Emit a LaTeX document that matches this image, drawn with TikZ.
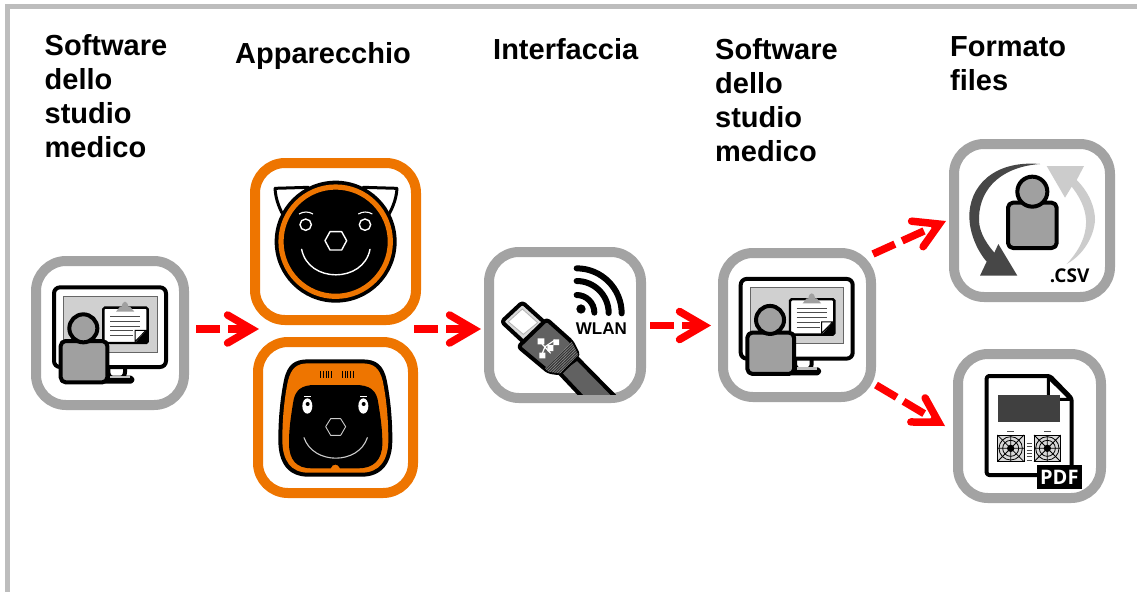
\documentclass[tikz,border=0pt]{standalone}
\usepackage{fontspec}
\setmainfont{Liberation Sans}
\newfontfamily\iconfont{Open Sans}
\usetikzlibrary{arrows.meta,calc}
\definecolor{boxgray}{HTML}{A3A3A3}
\definecolor{frameg}{HTML}{BDBDBD}
\definecolor{boxorange}{HTML}{EE7500}
\definecolor{scr}{HTML}{D0D0D0}
\definecolor{pers}{HTML}{A0A0A0}
\tikzset{
  graybox/.style={draw=boxgray,line width=10pt,rounded corners=30pt,fill=white,inner sep=0pt},
  orangebox/.style={draw=boxorange,line width=10pt,rounded corners=30pt,fill=white,inner sep=0pt},
  heading/.style={anchor=north west,align=left,inner sep=0pt,font=\bfseries\fontsize{29}{34}\selectfont},
  redarrow/.style={draw=red,line width=7.5pt,dash pattern=on 24pt off 8pt,
    -{Straight Barb[length=24pt,width=28pt,line width=7.5pt,line cap=round,line join=miter]}},
  ic/.style={line width=4pt,draw=black,line join=round},
}
\newcommand{\monitoricon}[2]{%
\begin{scope}[shift={(#1,#2)},scale=1/3]
  \draw[ic,fill=white,rounded corners=6pt] (265,350) rectangle (315,400);
  \draw[ic,fill=white,rounded corners=1.5pt] (250,398) -- (337,398) -- (337,410) -- (250,410) -- cycle;
  \fill[boxgray!70] (270,392) rectangle (330,400);
  \draw[ic,fill=white,rounded corners=6pt] (102,127) rectangle (438,366);
  \draw[line width=1pt,draw=black!60,fill=scr] (131,153) rectangle (411,322);
  \draw[line width=2.4pt,fill=white,rounded corners=1.5pt] (250,188) rectangle (383,294);
  \fill[pers] (288,200) -- (300,185) -- (305,185) .. controls (308,165) and (322,165) .. (325,185) -- (330,185) -- (343,200) -- cycle;
  \draw[line width=.9pt,draw=black!70] (270,215) -- (360,215) (270,229) -- (360,229) (270,243) -- (360,243) (270,257) -- (340,257) (270,272) -- (340,272);
  \fill[black] (383,252) -- (383,294) -- (345,294) -- cycle;
  \draw[line width=1pt,fill=white] (345,256) -- (378,256) -- (345,290) -- cycle;
  \draw[ic,fill=pers,rounded corners=5pt] (122,412) -- (122,288) -- (262,288) -- (262,412) -- cycle;
  \draw[ic,fill=pers] (190,250) circle[radius=42];
\end{scope}}
\newcommand{\fanicon}[2]{%
\begin{scope}[shift={(#1,#2)}]
  \fill[black!15] (-40,-40) rectangle (40,40);
  \draw[line width=.7pt] (-40,-40) rectangle (40,40);
  \draw[line width=.8pt] (0,0) circle[radius=35] (0,0) circle[radius=24];
  \draw[line width=.8pt] (-40,-40) -- (40,40) (-40,40) -- (40,-40) (-40,0) -- (40,0) (0,-40) -- (0,40);
  \fill (0,0) circle[radius=11];
\end{scope}}
\begin{document}
\begin{tikzpicture}[x=1pt,y=-1pt]
\useasboundingbox (0,0) rectangle (1137,592);
\draw[frameg,line width=5pt] (1137,6.5) -- (7.5,6.5) -- (7.5,592);

% headings
\node[heading] (h1) at (44.5,34.5) {Software\\dello\\studio\\medico};
\node[heading] (h2) at (235,42.5) {Apparecchio};
\node[heading] (h3) at (493,38.5) {Interfaccia};
\node[heading] (h4) at (715,38) {Software\\dello\\studio\\medico};
\node[heading] (h5) at (950,36.5) {Formato\\files};

% boxes
\node[graybox,minimum width=148pt,minimum height=144pt] (b1) at (110,333) {};
\node[orangebox,minimum width=161pt,minimum height=157pt] (b2) at (335.5,241.5) {};
\node[orangebox,minimum width=155pt,minimum height=151pt] (b3) at (335.5,417.5) {};
\node[graybox,minimum width=152pt,minimum height=146pt] (b4) at (565,325) {};
\node[graybox,minimum width=148pt,minimum height=144pt] (b5) at (797,325) {};
\node[graybox,minimum width=156pt,minimum height=153pt] (b6) at (1032,220.5) {};
\node[graybox,minimum width=143pt,minimum height=144pt] (b7) at (1029.5,426) {};

% monitors
\monitoricon{20}{245}
\monitoricon{706.7}{236.6}

% cat-shaped device
\begin{scope}[shift={(245,150)},scale=1/3]
  \draw[line width=3pt,fill=white,line join=round] (90,115) -- (190,112) -- (120,205) .. controls (105,180) and (92,150) .. cycle;
  \draw[line width=3pt,fill=white,line join=round] (456,115) -- (355,112) -- (425,205) .. controls (440,180) and (454,150) .. cycle;
  \fill[black] (272,275) circle[radius=183];
  \draw[boxorange,line width=5.2pt] (272,275) circle[radius=164];
  \draw[white,line width=1.4pt] (182,224) circle[radius=17] (360,224) circle[radius=17];
  \draw[white,line width=1.1pt] (162,192) .. controls (175,184) and (191,184) .. (204,192) (340,192) .. controls (353,184) and (369,184) .. (382,192);
  \draw[white,line width=1.4pt,line join=round] (240,272) -- (255,245) -- (290,245) -- (305,272) -- (290,300) -- (255,300) -- cycle;
  \draw[white,line width=1.4pt,line cap=round] (170,298) .. controls (190,400) and (355,400) .. (375,298);
\end{scope}

% square device
\begin{scope}[shift={(245,330)},scale=1/3]
  \fill[black] (190,88) -- (350,88) .. controls (395,88) and (415,105) .. (425,150) .. controls (435,200) and (442,260) .. (442,330) .. controls (442,400) and (410,440) .. (350,440) -- (190,440) .. controls (130,440) and (100,400) .. (100,330) .. controls (100,260) and (107,200) .. (117,150) .. controls (127,105) and (147,88) .. (190,88) -- cycle;
  \fill[boxorange] (190,100) -- (350,100) .. controls (388,100) and (403,115) .. (413,152) .. controls (423,200) and (430,260) .. (430,330) .. controls (430,392) and (402,428) .. (350,428) -- (190,428) .. controls (138,428) and (112,392) .. (112,330) .. controls (112,260) and (119,200) .. (129,152) .. controls (139,115) and (154,100) .. (190,100) -- cycle;
  \fill[black] (210,165) -- (330,165) .. controls (375,165) and (395,180) .. (400,220) .. controls (408,270) and (412,300) .. (412,340) .. controls (412,390) and (385,415) .. (340,415) -- (285,415) .. controls (280,400) and (262,400) .. (257,415) -- (200,415) .. controls (155,415) and (132,390) .. (132,340) .. controls (132,300) and (136,270) .. (144,220) .. controls (149,180) and (169,165) .. (210,165) -- cycle;
  \draw[line width=.8pt] (227,124) -- (227,143) (235,124) -- (235,143) (243,124) -- (243,143) (251,124) -- (251,143) (258,124) -- (258,143)
    (292,124) -- (292,143) (300,124) -- (300,143) (308,124) -- (308,143) (316,124) -- (316,143) (324,124) -- (324,143);
  \fill[white] (187,228) ellipse[x radius=15,y radius=23] (355,228) ellipse[x radius=15,y radius=23];
  \fill[black] (188,222) circle[radius=6] (356,222) circle[radius=6];
  \draw[white,line width=.7pt] (177,199) -- (197,199) (345,199) -- (365,199);
  \draw[white!80!black,line width=.9pt,line join=round] (242,290) -- (257,266) -- (287,266) -- (302,290) -- (287,316) -- (257,316) -- cycle;
  \draw[white!80!black,line width=1.1pt,line cap=round] (177,323) .. controls (205,405) and (340,405) .. (367,323);
\end{scope}

% USB plug and WLAN
\begin{scope}[shift={(475,240)},scale=1/3]
  \draw[black,line width=6pt,line cap=round] (305,165) arc[start angle=-90,end angle=0,radius=53]
     (305,123) arc[start angle=-90,end angle=0,radius=96]
     (305,85) arc[start angle=-90,end angle=0,radius=135];
  \fill[black] (318,207) circle[radius=14];
  \node[inner sep=0pt,text=black] (wlan) at (379,266) {\bfseries\fontsize{17}{17}\selectfont WLAN};
\end{scope}
\begin{scope}[shift={(490,290)},scale=1/3]
  \clip (-10,-10) rectangle (400,313);
  \draw[line width=4pt,fill=black!62,line join=round] (205,245) -- (290,335) -- (390,335) -- (262,205) -- cycle;
  \draw[line width=4pt,fill=white!85!black,line join=round,rounded corners=3pt] (35,95) -- (97,37) -- (170,103) -- (105,160) -- cycle;
  \draw[line width=.8pt,fill=white,draw=black!30] (55,95) -- (97,57) -- (143,98) -- (100,133) -- cycle;
  \draw[line width=4pt,fill=black!62,line join=round,rounded corners=3pt] (85,170) -- (170,88) -- (245,155) -- (265,195) -- (210,250) -- (175,245) -- cycle;
  \begin{scope}
    \clip (165,235) -- (245,155) -- (265,195) -- (210,250) -- (175,245) -- cycle;
    \fill[black!80] (150,150) rectangle (280,260);
    \foreach \d in {0,6,...,48}{\draw[black!45,line width=.6pt] ($(165,235)+(\d*0.72,\d*0.68)$) -- ++(80,-78);}
  \end{scope}
  \draw[white,line width=1.2pt] (150,155) -- (182,190) (165,170) -- (195,150) (165,170) -- (155,195);
  \fill[white] (143,145) rectangle (163,163) (190,148) rectangle (207,165) (172,165) rectangle (190,183) (148,188) rectangle (166,205);
\end{scope}

% CSV
\begin{scope}[shift={(940,130)},scale=1/3]
  \fill[black!72] (300,102) .. controls (160,90) and (85,170) .. (88,265) .. controls (90,310) and (110,360) .. (140,395) -- (120,437) -- (232,437) -- (175,342) -- (163,368) .. controls (130,330) and (115,295) .. (117,262) .. controls (120,170) and (190,110) .. (300,102) -- cycle;
  \fill[black!20] (320,108) -- (432,108) -- (410,150) .. controls (450,190) and (465,235) .. (465,270) .. controls (462,320) and (430,375) .. (380,402) .. controls (415,365) and (440,320) .. (438,270) .. controls (436,230) and (415,195) .. (395,170) -- (375,203) -- cycle;
  \draw[ic,fill=pers,rounded corners=5pt] (204,354) -- (204,218) -- (350,218) -- (350,354) -- cycle;
  \draw[ic,fill=pers] (277,185) circle[radius=45];
  \node[inner sep=0pt,text=black] (csvlabel) at (389,437) {\iconfont\bfseries\fontsize{19}{19}\selectfont .CSV};
\end{scope}

% PDF
\begin{scope}[shift={(940,340)},scale=1/3]
  \draw[ic,fill=white,rounded corners=2.5pt] (140,108) -- (330,108) -- (395,175) -- (395,405) -- (140,405) -- cycle;
  \draw[line width=3pt,fill=white,line join=round] (325,112) -- (325,178) -- (392,178) -- cycle;
  \fill[black!75] (175,165) rectangle (360,245);
  \draw[line width=.8pt,draw=black!70] (202,275) -- (222,275) (312,275) -- (332,275);
  \fanicon{212}{325}
  \fanicon{322}{325}
  \draw[line width=.9pt,draw=black!70] (260,310) -- (275,310) (260,320) -- (275,320) (260,330) -- (275,330) (260,340) -- (275,340) (260,350) -- (275,350) (260,362) -- (275,362);
  \fill[black] (290,375) rectangle (425,447);
  \node[inner sep=0pt,text=white] (pdflabel) at (358,411) {\iconfont\bfseries\fontsize{20}{20}\selectfont PDF};
\end{scope}

% connectors
\coordinate (a1s) at (196,329); \coordinate (a1e) at (259,329);
\coordinate (a2s) at (414,329); \coordinate (a2e) at (481,329);
\coordinate (a3s) at (650,325.5); \coordinate (a3e) at (711,325.5);
\coordinate (a4s) at (873,254); \coordinate (a4e) at (946,221);
\coordinate (a5s) at (876,385); \coordinate (a5e) at (945,426);
\draw[redarrow] (a1s) -- (a1e);
\draw[redarrow] (a2s) -- (a2e);
\draw[redarrow] (a3s) -- (a3e);
\draw[redarrow] (a4s) -- (a4e);
\draw[redarrow] (a5s) -- (a5e);
\end{tikzpicture}
\end{document}
